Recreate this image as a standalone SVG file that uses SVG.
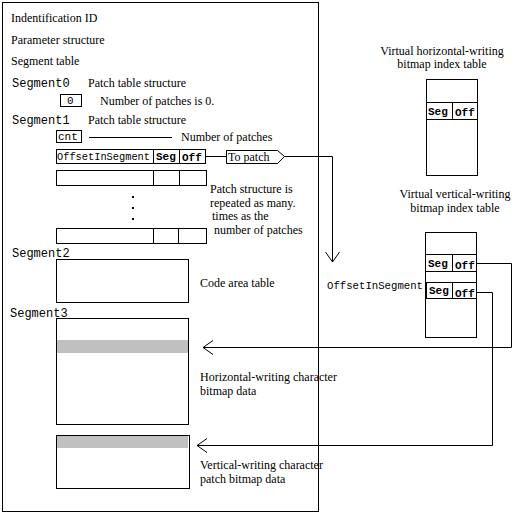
<svg xmlns="http://www.w3.org/2000/svg" width="530" height="513" viewBox="0 0 530 513">
<style>
.s{font-family:"Liberation Serif","Times New Roman",serif;font-size:12px;fill:#000}
.m{font-family:"Liberation Mono","Courier New",monospace;font-size:11px;fill:#000}
.ml{font-family:"Liberation Mono","Courier New",monospace;font-size:12px;fill:#000}
.b{font-family:"Liberation Mono","Courier New",monospace;font-size:11px;font-weight:bold;fill:#000}
.box{fill:#fff;stroke:#000;stroke-width:1}
.ln{fill:none;stroke:#000;stroke-width:1}
.gray{fill:#c0c0c0}
</style>
<defs>
<marker id="open" viewBox="0 0 12 16" refX="11" refY="8" markerWidth="12" markerHeight="16" orient="auto" markerUnits="userSpaceOnUse">
<polyline points="1,1 11,8 1,15" fill="none" stroke="#000" stroke-width="1"/>
</marker>
</defs>
<rect width="530" height="513" fill="#fff"/>

<g id="main-file">
<rect class="box" x="2.5" y="2.5" width="316" height="509"/>
<text class="s" x="11" y="22">Indentification ID</text>
<text class="s" x="11" y="44">Parameter structure</text>
<text class="s" x="11" y="65">Segment table</text>
</g>

<g id="segment0">
<text class="ml" x="12" y="87">Segment0</text>
<text class="s" x="88" y="87">Patch table structure</text>
<rect class="box" x="60.5" y="94.5" width="21" height="12"/>
<text class="m" x="67" y="104">0</text>
<text class="s" x="100" y="105">Number of patches is 0.</text>
</g>

<g id="segment1">
<text class="ml" x="12" y="124">Segment1</text>
<text class="s" x="88" y="124">Patch table structure</text>
<rect class="box" x="56.5" y="130.5" width="25" height="12"/>
<text class="m" x="58" y="140">cnt</text>
<line class="ln" x1="89" y1="137.5" x2="172" y2="137.5"/>
<text class="s" x="181" y="141">Number of patches</text>
<rect class="box" x="56.5" y="149.5" width="97" height="14"/>
<text class="m" x="57" y="160" textLength="93" lengthAdjust="spacingAndGlyphs">OffsetInSegment</text>
<rect class="box" x="153.5" y="149.5" width="26" height="14"/>
<text class="b" x="156" y="160">Seg</text>
<rect class="box" x="179.5" y="149.5" width="26" height="14"/>
<text class="b" x="182" y="161">Off</text>
<rect class="box" x="56.5" y="170.5" width="150" height="15"/>
<line class="ln" x1="153.5" y1="170" x2="153.5" y2="186"/>
<line class="ln" x1="179.5" y1="170" x2="179.5" y2="186"/>
<rect x="132" y="196" width="2" height="2" fill="#000"/>
<rect x="132" y="207" width="2" height="2" fill="#000"/>
<rect x="132" y="218" width="2" height="2" fill="#000"/>
<rect class="box" x="56.5" y="228.5" width="150" height="15"/>
<line class="ln" x1="153.5" y1="228" x2="153.5" y2="244"/>
<line class="ln" x1="178.5" y1="228" x2="178.5" y2="244"/>
<text class="s" x="210" y="193">Patch structure is</text>
<text class="s" x="210" y="207">repeated as many.</text>
<text class="s" x="212" y="220">times as the</text>
<text class="s" x="214" y="234">number of patches</text>
<polygon class="box" points="226.5,150.5 277.5,150.5 284.5,156.5 277.5,163.5 226.5,163.5"/>
<text class="s" x="228" y="161">To patch</text>
</g>

<g id="segment2">
<text class="ml" x="12" y="257">Segment2</text>
<rect class="box" x="56.5" y="259.5" width="132" height="43"/>
<text class="s" x="200" y="287">Code area table</text>
</g>

<g id="segment3">
<text class="ml" x="10" y="317">Segment3</text>
<rect class="box" x="56.5" y="318.5" width="132" height="106"/>
<rect class="gray" x="57" y="340" width="131" height="13"/>
<text class="s" x="200" y="381">Horizontal-writing character</text>
<text class="s" x="200" y="395">bitmap data</text>
<rect class="box" x="56.5" y="435.5" width="133" height="53"/>
<rect class="gray" x="57" y="436" width="131" height="12"/>
<text class="s" x="200" y="469">Vertical-writing character</text>
<text class="s" x="200" y="483">patch bitmap data</text>
</g>

<g id="horizontal-index">
<text class="s" x="442" y="55" text-anchor="middle">Virtual horizontal-writing</text>
<text class="s" x="442" y="68" text-anchor="middle">bitmap index table</text>
<rect class="box" x="426.5" y="79.5" width="51" height="96"/>
<rect class="box" x="426.5" y="102.5" width="26" height="17"/>
<rect class="box" x="452.5" y="102.5" width="25" height="17"/>
<text class="b" x="428" y="115">Seg</text>
<text class="b" x="455" y="116">Off</text>
</g>

<g id="vertical-index">
<text class="s" x="455" y="198" text-anchor="middle">Virtual vertical-writing</text>
<text class="s" x="455" y="212" text-anchor="middle">bitmap index table</text>
<rect class="box" x="425.5" y="232.5" width="51" height="105"/>
<rect class="box" x="425.5" y="254.5" width="27" height="17"/>
<rect class="box" x="452.5" y="254.5" width="24" height="17"/>
<text class="b" x="428" y="267">Seg</text>
<text class="b" x="455" y="269">Off</text>
<text class="m" x="327" y="289" textLength="96" lengthAdjust="spacingAndGlyphs">OffsetInSegment</text>
<rect class="box" x="426.5" y="282.5" width="26" height="16"/>
<rect class="box" x="452.5" y="282.5" width="24" height="16"/>
<text class="b" x="429" y="294">Seg</text>
<text class="b" x="455" y="297">Off</text>
</g>

<g id="connectors">
<line class="ln" x1="206" y1="156.5" x2="226" y2="156.5"/>
<polyline class="ln" points="284.5,156.5 332.5,156.5 332.5,262" marker-end="url(#open)"/>
<polyline class="ln" points="477,263.5 511.5,263.5 511.5,347.5 203,347.5" marker-end="url(#open)"/>
<polyline class="ln" points="477,292.5 492.5,292.5 492.5,445.5 197,445.5" marker-end="url(#open)"/>
</g>
</svg>
